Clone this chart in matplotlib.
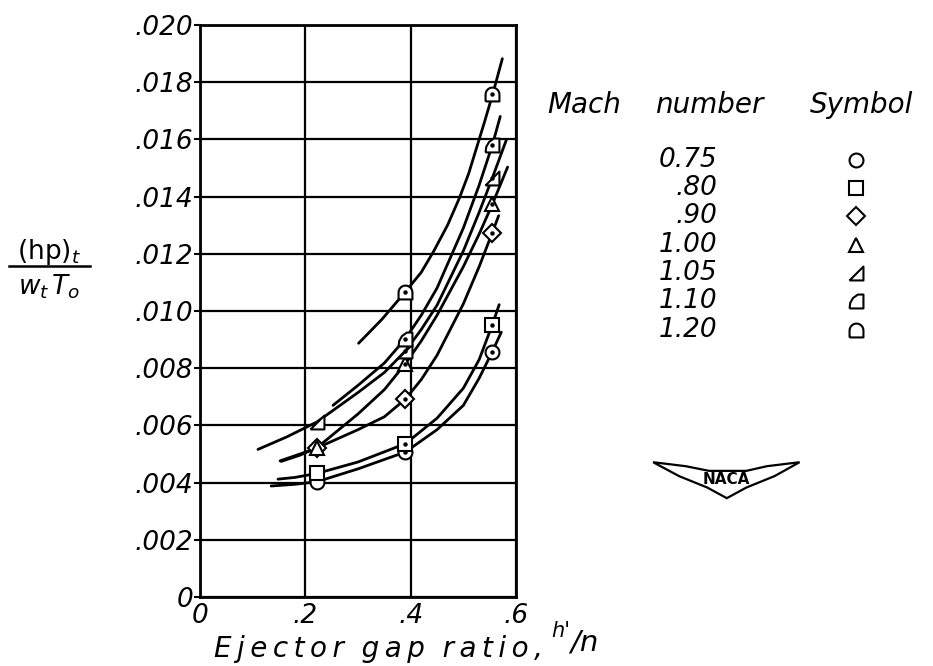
import numpy as np
import matplotlib
matplotlib.use("Agg")
import matplotlib.pyplot as plt
from matplotlib.patches import Polygon

# data
gap = [0.222, 0.390, 0.555]
mach_labels = ['0.75', '.80', '.90', '1.00', '1.05', '1.10', '1.20']

pts_075 = [0.00403, 0.00507, 0.00858]
pts_080 = [0.00432, 0.00536, 0.00952]
pts_090 = [0.00521, 0.00692, 0.01274]
pts_100 = [0.00522, 0.00816, 0.01373]
pts_105 = [0.00612, 0.00860, 0.01465]
pts_110 = [np.nan, 0.00903, 0.01580]
pts_120 = [np.nan, 0.01065, 0.01760]

# faired curves
cx_075 = [0.135, 0.18, 0.222, 0.30, 0.39, 0.45, 0.50, 0.53, 0.555, 0.572]
cy_075 = [0.00388, 0.00394, 0.00403, 0.00448, 0.00507, 0.00585, 0.00670, 0.00765, 0.00858, 0.00926]
cx_080 = [0.148, 0.18, 0.222, 0.30, 0.39, 0.45, 0.50, 0.53, 0.555, 0.568]
cy_080 = [0.00412, 0.00418, 0.00432, 0.00472, 0.00536, 0.00625, 0.00730, 0.00830, 0.00952, 0.01022]
cx_090 = [0.152, 0.19, 0.222, 0.30, 0.35, 0.39, 0.42, 0.45, 0.50, 0.53, 0.555, 0.567]
cy_090 = [0.00476, 0.00500, 0.00521, 0.00585, 0.00630, 0.00692, 0.00760, 0.00845, 0.01025, 0.01155, 0.01274, 0.01333]
cx_100 = [0.154, 0.19, 0.222, 0.30, 0.35, 0.39, 0.42, 0.45, 0.50, 0.53, 0.555, 0.584]
cy_100 = [0.00474, 0.00496, 0.00522, 0.00640, 0.00725, 0.00816, 0.00895, 0.00985, 0.01155, 0.01269, 0.01373, 0.01503]
cx_105 = [0.110, 0.165, 0.222, 0.30, 0.35, 0.39, 0.42, 0.45, 0.50, 0.53, 0.555, 0.582]
cy_105 = [0.00516, 0.00560, 0.00612, 0.00715, 0.00785, 0.00860, 0.00935, 0.01020, 0.01210, 0.01345, 0.01465, 0.01600]
cx_110 = [0.2525, 0.30, 0.35, 0.39, 0.42, 0.45, 0.50, 0.53, 0.555, 0.570]
cy_110 = [0.00670, 0.00740, 0.00818, 0.00903, 0.00985, 0.01080, 0.01290, 0.01440, 0.01580, 0.01680]
cx_120 = [0.301, 0.345, 0.389, 0.42, 0.444, 0.47, 0.4925, 0.51, 0.525, 0.54, 0.556, 0.574]
cy_120 = [0.00887, 0.00970, 0.01065, 0.01135, 0.01210, 0.01300, 0.01395, 0.01480, 0.01570, 0.01660, 0.01760, 0.01882]

x_ticks = [0, 0.2, 0.4, 0.6]
x_ticklabels = ['0', '.2', '.4', '.6']
y_ticks = [0, 0.002, 0.004, 0.006, 0.008, 0.010, 0.012, 0.014, 0.016, 0.018, 0.020]
y_ticklabels = ['0', '.002', '.004', '.006', '.008', '.010', '.012', '.014', '.016', '.018', '.020']

# marker shapes
arc = np.linspace(0, np.pi, 12)
m_105 = [(-1, -1), (1, -1), (1, 1), (-1, -1)]
m_110 = [(-1, -1), (1, -1), (1, 1), (0.2, 1), (-0.5, 0.5), (-0.9, -0.2), (-1, -1)]
m_120 = [(-1, -1), (1, -1)] + list(zip(np.cos(arc), np.sin(arc))) + [(-1, -1)]
markers = ['o', 's', 'D', '^', m_105, m_110, m_120]
msizes = [10, 10, 9, 10, 10, 10, 10]

curves = [(cx_075, cy_075), (cx_080, cy_080), (cx_090, cy_090), (cx_100, cy_100),
          (cx_105, cy_105), (cx_110, cy_110), (cx_120, cy_120)]
points = [pts_075, pts_080, pts_090, pts_100, pts_105, pts_110, pts_120]

fnt = dict(family='DejaVu Sans', style='italic')
thin = '\u2009'

fig = plt.figure(figsize=(9.33, 6.66), dpi=100)
ax = fig.add_axes([0.2144, 0.1036, 0.3387, 0.859])

for (cx, cy) in curves:
    ax.plot(cx, cy, color='black', lw=2.0, solid_capstyle='round', zorder=3)

for pts, mk, ms in zip(points, markers, msizes):
    ax.plot(gap, pts, linestyle='none', marker=mk, markersize=ms,
            markerfacecolor='white', markeredgecolor='black', markeredgewidth=1.5, zorder=4)
    ax.plot(gap[1:], pts[1:], linestyle='none', marker='o', markersize=2.2,
            color='black', zorder=5)

ax.set_xlim(0, 0.6)
ax.set_ylim(0, 0.020)
ax.set_xticks(x_ticks)
ax.set_xticklabels(x_ticklabels, fontsize=19, **fnt)
ax.set_yticks(y_ticks)
ax.set_yticklabels(y_ticklabels, fontsize=19, **fnt)
ax.tick_params(axis='y', length=4, width=1.5, pad=1)
ax.tick_params(axis='x', length=0, pad=4)
ax.grid(True, color='black', lw=1.6)
ax.set_axisbelow(True)
for s in ax.spines.values():
    s.set_linewidth(2.0)

# axis titles
xlab = '  '.join(thin.join(w) for w in ['Ejector', 'gap', 'ratio,'])
fig.text(0.229, 0.025, xlab, fontsize=20, ha='left', va='center', **fnt)
fig.text(0.601, 0.052, "h'", fontsize=15, ha='center', va='center', **fnt)
fig.text(0.626, 0.035, "/n", fontsize=21, ha='center', va='center', **fnt)

fig.text(0.0525, 0.622, '(hp)$_t$', fontsize=19, ha='center', va='center')
fig.add_artist(plt.Line2D([0.010, 0.096], [0.600, 0.600], color='black', lw=1.8,
                          transform=fig.transFigure))
fig.text(0.0525, 0.570, '$w_t\\, T_o$', fontsize=19, ha='center', va='center')

# symbol key
fig.text(0.587, 0.843, 'Mach', fontsize=20, ha='left', va='center', **fnt)
fig.text(0.702, 0.843, 'number', fontsize=20, ha='left', va='center', **fnt)
fig.text(0.868, 0.843, 'Symbol', fontsize=20, ha='left', va='center', **fnt)
for i, (lab, mk, ms) in enumerate(zip(mach_labels, markers, msizes)):
    yy = 0.760 - i * 0.0425
    fig.text(0.769, yy, lab, fontsize=19, ha='right', va='center', **fnt)
    fig.add_artist(plt.Line2D([0.918], [yy], marker=mk, markersize=ms,
                              markerfacecolor='white', markeredgecolor='black',
                              markeredgewidth=1.5, transform=fig.transFigure))

# NACA wings
wing = [(0.700, 0.306), (0.735, 0.300), (0.760, 0.293), (0.800, 0.293),
        (0.822, 0.300), (0.857, 0.306), (0.830, 0.285), (0.800, 0.268),
        (0.779, 0.252), (0.758, 0.268), (0.728, 0.285)]
fig.add_artist(Polygon(wing, closed=True, fill=False, lw=1.6, edgecolor='black',
                       transform=fig.transFigure))
fig.text(0.779, 0.280, 'NACA', fontsize=11, ha='center', va='center', weight='bold')

fig.savefig('out.png', dpi=100)
